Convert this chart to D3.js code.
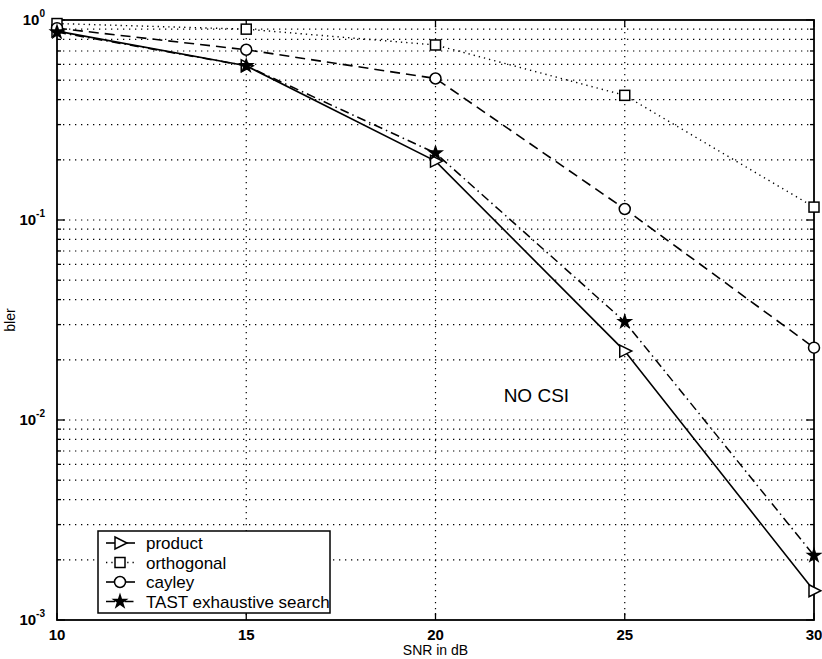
<!DOCTYPE html>
<html>
<head>
<meta charset="utf-8">
<script src="https://cdn.jsdelivr.net/npm/d3@7"></script>
<style>
  body { margin: 0; background: #fff; }
  svg { display: block; font-family: "Liberation Sans", Arial, sans-serif; }
</style>
</head>
<body>
<div id="chart"></div>
<script>
// SNR vs block error rate, no CSI, four space-time codes

const snr = [10, 15, 20, 25, 30];
const xTicks = [10, 15, 20, 25, 30];
const yDecades = [1e-3, 1e-2, 1e-1, 1e0];
const yTickLabels = ["-3", "-2", "-1", "0"];

const product    = [0.88, 0.59, 0.197, 0.0221, 0.0014];
const orthogonal = [0.96, 0.90, 0.75, 0.42, 0.116];
const cayley     = [0.91, 0.71, 0.51, 0.1135, 0.023];
const tast       = [0.87, 0.59, 0.216, 0.031, 0.0021];

const seriesNames = ["product", "orthogonal", "cayley", "TAST exhaustive search"];

const width = 822, height = 659;
const margin = { top: 20, right: 8, bottom: 39, left: 57 };
const w = width - margin.left - margin.right;
const h = height - margin.top - margin.bottom;

const svg = d3.select("#chart").append("svg")
  .attr("width", width)
  .attr("height", height);

const g = svg.append("g")
  .attr("transform", `translate(${margin.left},${margin.top})`);

const x = d3.scaleLinear().domain([10, 30]).range([0, w]);
const y = d3.scaleLog().domain([1e-3, 1]).range([h, 0]);

// minor + major log ticks
const logTicks = [];
for (let e = -3; e < 0; e++) {
  for (let m = 1; m < 10; m++) logTicks.push(m * Math.pow(10, e));
}
logTicks.push(1);

// grid
const grid = g.append("g").attr("stroke", "#000").attr("stroke-width", 1.2)
  .attr("stroke-dasharray", "1.3,4.7");
grid.selectAll("line.h").data(logTicks.filter(v => v > 1e-3 && v < 1))
  .join("line").attr("class", "h")
  .attr("x1", 0).attr("x2", w)
  .attr("y1", d => y(d)).attr("y2", d => y(d));
grid.selectAll("line.v").data(xTicks.slice(1, -1))
  .join("line").attr("class", "v")
  .attr("x1", d => x(d)).attr("x2", d => x(d))
  .attr("y1", 0).attr("y2", h);

// ticks (inside, on all four sides)
const tk = g.append("g").attr("stroke", "#000").attr("stroke-width", 1.3);
logTicks.forEach(v => {
  const major = yDecades.includes(v);
  const len = major ? 8 : 4;
  tk.append("line").attr("x1", 0).attr("x2", len).attr("y1", y(v)).attr("y2", y(v));
  tk.append("line").attr("x1", w).attr("x2", w - len).attr("y1", y(v)).attr("y2", y(v));
});
xTicks.forEach(v => {
  tk.append("line").attr("x1", x(v)).attr("x2", x(v)).attr("y1", h).attr("y2", h - 7);
  tk.append("line").attr("x1", x(v)).attr("x2", x(v)).attr("y1", 0).attr("y2", 7);
});

// frame
g.append("rect").attr("width", w).attr("height", h)
  .attr("fill", "none").attr("stroke", "#000").attr("stroke-width", 1.8);

// x tick labels
g.selectAll("text.xt").data(xTicks).join("text").attr("class", "xt")
  .attr("x", d => x(d)).attr("y", h + 20)
  .attr("text-anchor", "middle")
  .attr("font-size", 15).attr("font-weight", "bold")
  .text(d => d);

// y tick labels 10^n
yDecades.forEach((v, i) => {
  const t = g.append("text")
    .attr("x", -12).attr("y", y(v) + 5)
    .attr("text-anchor", "end")
    .attr("font-size", 15).attr("font-weight", "bold");
  t.append("tspan").text("10");
  t.append("tspan").attr("font-size", 10).attr("dy", -8).text(yTickLabels[i]);
});

// axis titles
g.append("text").attr("x", w / 2).attr("y", h + 35)
  .attr("text-anchor", "middle").attr("font-size", 14)
  .text("SNR in dB");
g.append("text").attr("transform", `translate(${-42},${h / 2}) rotate(-90)`)
  .attr("text-anchor", "middle").attr("font-size", 14)
  .text("bler");

// annotation
g.append("text").attr("x", x(21.8)).attr("y", y(0.0123))
  .attr("font-size", 19).text("NO CSI");

// marker shapes
const triPath = "M-5,-6L7,0L-5,6Z";
const starPath = d3.symbol().type(d3.symbolStar).size(90)();

function drawMarker(sel, kind) {
  if (kind === "tri") {
    sel.append("path").attr("d", triPath).attr("fill", "#fff")
      .attr("stroke", "#000").attr("stroke-width", 1.5);
  } else if (kind === "sq") {
    sel.append("rect").attr("x", -5).attr("y", -5).attr("width", 10).attr("height", 10)
      .attr("fill", "#fff").attr("stroke", "#000").attr("stroke-width", 1.5);
  } else if (kind === "circ") {
    sel.append("circle").attr("r", 5.5).attr("fill", "#fff")
      .attr("stroke", "#000").attr("stroke-width", 1.5);
  } else {
    sel.append("path").attr("d", starPath).attr("fill", "#000");
  }
}

const series = [
  { name: seriesNames[0], values: product, dash: null, marker: "tri", sw: 1.6 },
  { name: seriesNames[1], values: orthogonal, dash: "1.3,4", marker: "sq", sw: 1.4 },
  { name: seriesNames[2], values: cayley, dash: "10,6", marker: "circ", sw: 1.6 },
  { name: seriesNames[3], values: tast, dash: "9,4,1.5,4", marker: "star", sw: 1.5 }
];

const line = d3.line().x((d, i) => x(snr[i])).y(d => y(d));

series.forEach(s => {
  g.append("path").datum(s.values)
    .attr("d", line)
    .attr("fill", "none").attr("stroke", "#000")
    .attr("stroke-width", s.sw)
    .attr("stroke-dasharray", s.dash);
});
series.forEach(s => {
  s.values.forEach((v, i) => {
    const m = g.append("g").attr("transform", `translate(${x(snr[i])},${y(v)})`);
    drawMarker(m, s.marker);
  });
});

// legend
const lg = svg.append("g").attr("transform", "translate(98,531)");
lg.append("rect").attr("width", 232).attr("height", 82)
  .attr("fill", "#fff").attr("stroke", "#000").attr("stroke-width", 1.5);
series.forEach((s, i) => {
  const yy = 12 + i * 19.5;
  lg.append("line").attr("x1", 8).attr("x2", 37).attr("y1", yy).attr("y2", yy)
    .attr("stroke", "#000").attr("stroke-width", s.sw)
    .attr("stroke-dasharray", s.dash === "10,6" ? null : s.dash);
  drawMarker(lg.append("g").attr("transform", `translate(22,${yy})`), s.marker);
  lg.append("text").attr("x", 48).attr("y", yy + 6)
    .attr("font-size", 17).text(s.name);
});
</script>
</body>
</html>
